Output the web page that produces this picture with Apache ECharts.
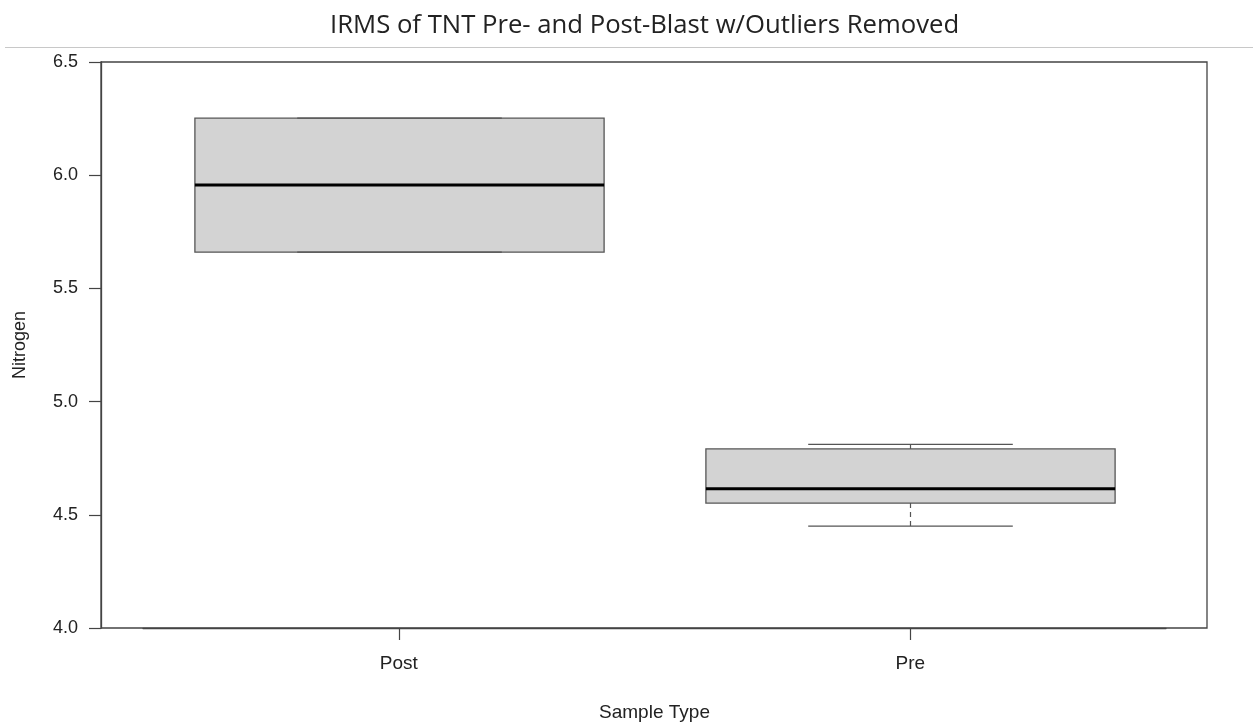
<!DOCTYPE html>
<html>
<head>
<meta charset="utf-8">
<script src="https://cdn.jsdelivr.net/npm/echarts@6/dist/echarts.min.js"></script>
<style>html,body{margin:0;padding:0;background:#fff;}#c{width:1253px;height:725px;}</style>
</head>
<body>
<div id="c"></div>
<script>
const categories = ['Post', 'Pre'];
const mins    = [5.66, 4.45];
const q1s     = [5.66, 4.552];
const medians = [5.957, 4.615];
const q3s     = [6.252, 4.791];
const maxs    = [6.252, 4.811];
const yTicks  = [4.0, 4.5, 5.0, 5.5, 6.0, 6.5];

const boxData = categories.map((c, i) => [i, mins[i], q1s[i], medians[i], q3s[i], maxs[i]]);

const chart = echarts.init(document.getElementById('c'));

function renderItem(params, api) {
  const x = api.value(0);
  const band = api.size([1, 0])[0];
  const boxW = band * 0.8;
  const capW = boxW / 2;
  const pMin = api.coord([x, api.value(1)]);
  const pQ1 = api.coord([x, api.value(2)]);
  const pMed = api.coord([x, api.value(3)]);
  const pQ3 = api.coord([x, api.value(4)]);
  const pMax = api.coord([x, api.value(5)]);
  const cx = Math.round(pMed[0]) + 0.5;
  const edge = '#555555';
  const children = [
    { type: 'rect', shape: { x: cx - boxW / 2, y: pQ3[1], width: boxW, height: pQ1[1] - pQ3[1] },
      style: { fill: '#d3d3d3', stroke: edge, lineWidth: 1.3 } },
    { type: 'line', shape: { x1: cx, y1: pQ3[1], x2: cx, y2: pMax[1] },
      style: { stroke: edge, lineWidth: 1.2, lineDash: [5, 4] } },
    { type: 'line', shape: { x1: cx, y1: pQ1[1], x2: cx, y2: pMin[1] },
      style: { stroke: edge, lineWidth: 1.2, lineDash: [5, 4] } },
    { type: 'line', shape: { x1: cx - capW / 2, y1: pMax[1], x2: cx + capW / 2, y2: pMax[1] },
      style: { stroke: edge, lineWidth: 1.3 } },
    { type: 'line', shape: { x1: cx - capW / 2, y1: pMin[1], x2: cx + capW / 2, y2: pMin[1] },
      style: { stroke: edge, lineWidth: 1.3 } },
    { type: 'line', shape: { x1: cx - boxW / 2, y1: pMed[1], x2: cx + boxW / 2, y2: pMed[1] },
      style: { stroke: '#000000', lineWidth: 3 } }
  ];
  return { type: 'group', children: children };
}

const labelFont = '"Liberation Sans", Arial, sans-serif';

const option = {
  backgroundColor: '#ffffff',
  animation: false,
  graphic: [
    { type: 'text', left: 330, top: 13,
      style: { text: 'IRMS of TNT Pre- and Post-Blast w/Outliers Removed', fill: '#222222',
               font: '25.7px "Open Sans", sans-serif' } },
    { type: 'line', shape: { x1: 5, y1: 47.5, x2: 1253, y2: 47.5 },
      style: { stroke: '#c8c8c8', lineWidth: 1 } }
  ],
  grid: [
    { left: 143, right: 87, top: 62, bottom: 97, containLabel: false, outerBoundsMode: 'none' },
    { left: 101, right: 46, top: 62, bottom: 97, containLabel: false, outerBoundsMode: 'none',
      show: true, borderColor: '#444444', borderWidth: 1.3, backgroundColor: 'transparent' }
  ],
  xAxis: [
    { type: 'category', gridIndex: 0, data: categories, boundaryGap: true,
      axisLine: { show: true, lineStyle: { color: '#444444', width: 1.3 } },
      axisTick: { show: true, alignWithLabel: true, length: 12, lineStyle: { color: '#444444', width: 1.2 } },
      axisLabel: { margin: 26, color: '#222222', fontSize: 19, fontFamily: labelFont },
      name: 'Sample Type', nameLocation: 'middle', nameGap: 75,
      nameTextStyle: { color: '#222222', fontSize: 19, fontFamily: labelFont } },
    { type: 'value', gridIndex: 1, show: false, min: 0, max: 1 }
  ],
  yAxis: [
    { type: 'value', gridIndex: 0, show: false, min: 4, max: 6.5 },
    { type: 'value', gridIndex: 1, min: yTicks[0], max: yTicks[yTicks.length - 1], interval: 0.5,
      axisLine: { show: true, lineStyle: { color: '#444444', width: 1.3 } },
      axisTick: { show: true, length: 12, lineStyle: { color: '#444444', width: 1.2 } },
      splitLine: { show: false },
      axisLabel: { margin: 23, color: '#222222', fontSize: 18, fontFamily: labelFont,
                   formatter: v => v.toFixed(1) },
      name: 'Nitrogen', nameLocation: 'middle', nameRotate: 90, nameGap: 72,
      nameTextStyle: { color: '#222222', fontSize: 18, fontFamily: labelFont } }
  ],
  series: [
    { type: 'custom', xAxisIndex: 0, yAxisIndex: 0, renderItem: renderItem, data: boxData, z: 5 }
  ]
};
chart.setOption(option);
</script>
</body>
</html>
